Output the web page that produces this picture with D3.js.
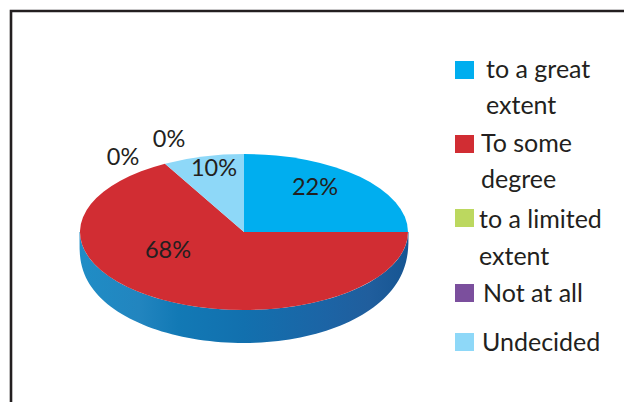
<!DOCTYPE html>
<html><head><meta charset="utf-8">
<script src="https://cdn.jsdelivr.net/npm/d3@7"></script>
<style>html,body{margin:0;padding:0;background:#fff}svg{display:block}text{font-family:Lato,sans-serif;fill:#231f20}</style>
</head><body><svg id="c" width="624" height="402"></svg>
<script>
const categories = ["to a great extent","To some degree","to a limited extent","Not at all","Undecided"];
const percentLabels = ["22%","68%","0%","0%","10%"];
const drawnShares = [25,67,0,0,8];
const colors = ["#00aeef","#d12d33","#bcd85f","#7b4f9d","#8ed8f8"];
const legendLines = [["to a great","extent"],["To some","degree"],["to a limited","extent"],["Not at all"],["Undecided"]];
const legendSwatchY = [70,144,218,293,342];
const legendTextX = [486,481,479,483,482];
const labelPos = [[315,187],[168,250],[123,157],[169,139],[214,168]];
const legendRowY = [[70,106],[144,180],[220,257],[294],[343]];

const svg = d3.select("#c");
const cx=244, cy=232, rx=164, ry=78, depth=33, fs=23.5, legendFs=25;
svg.append("path").attr("d","M11,402V11H624").attr("fill","none").attr("stroke","#231f20").attr("stroke-width",2.6);

const defs = svg.append("defs");
const g = defs.append("linearGradient").attr("id","side").attr("x1","0").attr("x2","1").attr("y1","0").attr("y2","0");
[[0,"#1f8dc6"],[.18,"#2285bf"],[.3,"#1279b5"],[.5,"#1270ae"],[.75,"#1c64a5"],[.88,"#205e9d"],[1,"#165592"]]
  .forEach(([o,c])=>g.append("stop").attr("offset",o).attr("stop-color",c));

const angles = d3.range(0,181,2).map(d=>d*Math.PI/180);
const taper = a=>Math.pow(Math.max(0,Math.sin(a)), Math.cos(a)>0?0.4:0.25);
const sidePts = angles.map(a=>[cx+(rx+0.5)*Math.cos(a),cy+ry*Math.sin(a)+depth*taper(a)])
  .concat(angles.slice().reverse().map(a=>[cx+rx*Math.cos(a),cy+ry*Math.sin(a)]));
svg.append("path").attr("d",d3.line()(sidePts)+"Z").attr("fill","url(#side)");

const pie = d3.pie().sort(null).value(d=>d)(drawnShares);
const arc = d3.arc().innerRadius(0).outerRadius(rx);
svg.append("g").attr("transform",`translate(${cx},${cy}) scale(1,${ry/rx})`)
  .selectAll("path").data(pie).join("path").attr("d",arc).attr("fill",(d,i)=>colors[i]);

svg.append("g").selectAll("text").data(percentLabels).join("text")
  .attr("x",(d,i)=>labelPos[i][0]).attr("y",(d,i)=>labelPos[i][1]+8).attr("text-anchor","middle")
  .attr("font-size",fs).text(d=>d);

const lg = svg.append("g");
categories.forEach((c,i)=>{
  lg.append("rect").attr("x",455).attr("y",legendSwatchY[i]-9).attr("width",19).attr("height",18).attr("fill",colors[i]);
  legendLines[i].forEach((t,j)=>lg.append("text").attr("x",legendTextX[i]).attr("y",legendRowY[i][j]+8).attr("font-size",legendFs).text(t));
});
</script></body></html>
